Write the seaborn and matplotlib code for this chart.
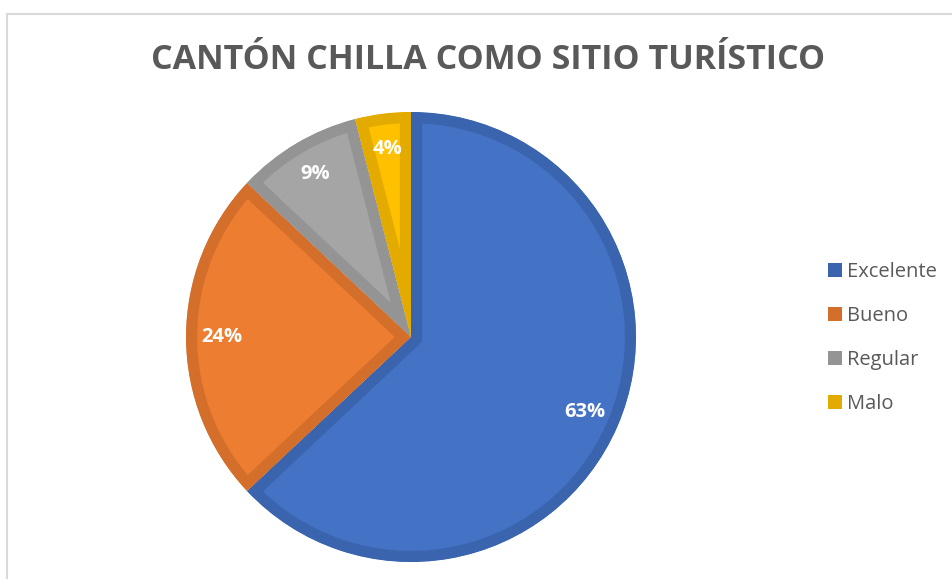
import matplotlib
matplotlib.use("Agg")
import matplotlib.pyplot as plt
import seaborn as sns
from matplotlib.patches import Patch, Rectangle

categories = ["Excelente", "Bueno", "Regular", "Malo"]
values = [63, 24, 9, 4]
fill_colors = ["#4472C4", "#ED7D31", "#A5A5A5", "#FFC000"]
edge_colors = ["#3B64AE", "#D46E2B", "#949494", "#E3AB00"]
title = "CANTÓN CHILLA COMO SITIO TURÍSTICO"

sns.set_theme(style="white")
plt.rcParams["font.family"] = ["Open Sans", "DejaVu Sans"]

fig = plt.figure(figsize=(9.53, 5.79), dpi=100)
fig.patch.set_facecolor("white")

# light chart-area border like the Excel frame
fig.patches.append(Rectangle((7 / 953, -0.05), 1.1, (579 - 14) / 579 + 0.05,
                             transform=fig.transFigure, fill=False,
                             edgecolor="#D9D9D9", linewidth=1.5))

ax = fig.add_axes([186 / 953, 17 / 579, 450 / 953, 450 / 579])
wedges, texts, autotexts = ax.pie(
    values, colors=fill_colors, startangle=90, counterclock=False,
    autopct="%1.0f%%", pctdistance=0.84, radius=1,
    wedgeprops=dict(linewidth=16),
    textprops=dict(color="white", fontsize=14.5, fontweight="bold"),
)
# keep the darker outline inside each slice
for w, ec in zip(wedges, edge_colors):
    w.set_edgecolor(ec)
    w.set_clip_path(w)
    w.set_clip_on(True)
ax.set_xlim(-1, 1)
ax.set_ylim(-1, 1)
ax.set_aspect("equal")
ax.axis("off")

fig.text(488 / 953, 1 - 60 / 579, title, ha="center", va="center",
         fontsize=24.5, fontweight="bold", color="#595959")

handles = [Patch(facecolor=c, edgecolor="none") for c in edge_colors]
leg = fig.legend(handles, categories, loc="center left",
                 bbox_to_anchor=(810 / 953, 1 - 338 / 579), frameon=False,
                 fontsize=14.5, labelcolor="#595959", handlelength=0.7,
                 handleheight=0.7, handletextpad=0.25, labelspacing=1.2)

fig.savefig("out.png", dpi=100, facecolor="white")
